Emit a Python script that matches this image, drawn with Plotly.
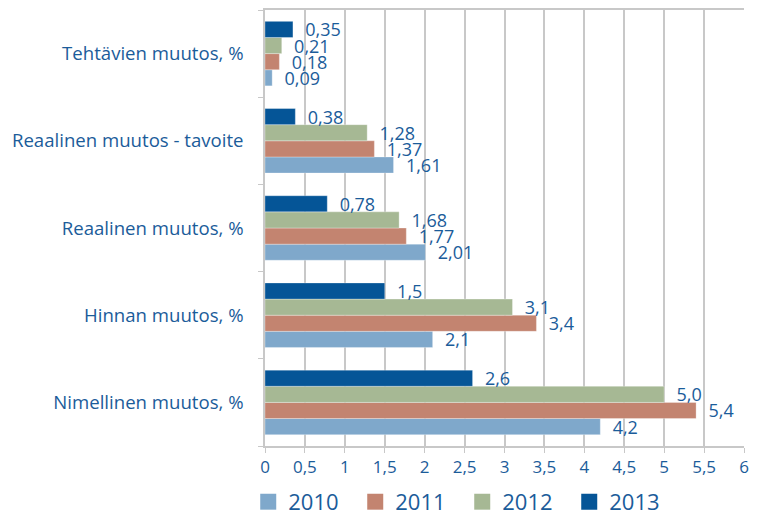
import plotly.graph_objects as go

categories = [
    "Nimellinen muutos, %",
    "Hinnan muutos, %",
    "Reaalinen muutos, %",
    "Reaalinen muutos - tavoite",
    "Tehtävien muutos, %",
]
years = ["2010", "2011", "2012", "2013"]
values = {
    "2010": [4.2, 2.1, 2.01, 1.61, 0.09],
    "2011": [5.4, 3.4, 1.77, 1.37, 0.18],
    "2012": [5.0, 3.1, 1.68, 1.28, 0.21],
    "2013": [2.6, 1.5, 0.78, 0.38, 0.35],
}
labels = {
    "2010": ["4,2", "2,1", "2,01", "1,61", "0,09"],
    "2011": ["5,4", "3,4", "1,77", "1,37", "0,18"],
    "2012": ["5,0", "3,1", "1,68", "1,28", "0,21"],
    "2013": ["2,6", "1,5", "0,78", "0,38", "0,35"],
}
colors = {"2010": "#7fa8cb", "2011": "#c38470", "2012": "#a6b894", "2013": "#055597"}
TXT = "#1b5c9a"
FONT = "Open Sans, sans-serif"

fig = go.Figure()
for yr in years:
    fig.add_trace(go.Bar(
        y=categories,
        x=values[yr],
        name=yr,
        orientation="h",
        showlegend=False,
        marker=dict(color=colors[yr], line=dict(color="rgba(255,255,255,0.6)", width=0.5)),
        text=["\u00a0\u00a0" + t for t in labels[yr]],
        textposition="outside",
        constraintext="none",
        textangle=0,
        textfont=dict(color=TXT, size=18, family=FONT),
        cliponaxis=False,
    ))

# legend entries with bigger square swatches
for yr in years:
    fig.add_trace(go.Scatter(
        x=[None], y=[None], mode="markers", name=yr,
        marker=dict(symbol="square", size=18, color=colors[yr]),
    ))

# page body has an 8px margin: keep the figure inside the window
fig.update_layout(
    width=741, height=505,
    barmode="group",
    bargap=0.26,
    bargroupgap=0,
    plot_bgcolor="#ffffff",
    paper_bgcolor="#ffffff",
    font=dict(family=FONT, size=17, color=TXT),
    margin=dict(l=257, r=5, t=2, b=67, autoexpand=False),
    separators=", ",
    legend=dict(
        orientation="h", x=-0.035, xanchor="left", y=-0.08, yanchor="top",
        font=dict(size=22, color=TXT), entrywidth=62, traceorder="normal",
        itemsizing="trace",
    ),
    xaxis=dict(
        range=[0, 6], dtick=0.5, tickformat=".1~f", automargin=False,
        showgrid=True, gridcolor="#c8c8c8", gridwidth=1.5,
        showline=True, linecolor="#c8c8c8", linewidth=1.5, mirror=True,
        ticks="outside", ticklen=5, tickcolor="#c8c8c8",
        ticklabeloverflow="allow",
        tickfont=dict(size=17, color=TXT), zeroline=False,
    ),
    yaxis=dict(
        showline=True, linecolor="#c8c8c8", linewidth=1.5, automargin=False,
        ticks="outside", ticklen=5, tickcolor="#c8c8c8", tickson="boundaries",
        ticklabelstandoff=16,
        showgrid=False, tickfont=dict(size=18.6, color=TXT),
    ),
)

fig.write_html("out.html")
